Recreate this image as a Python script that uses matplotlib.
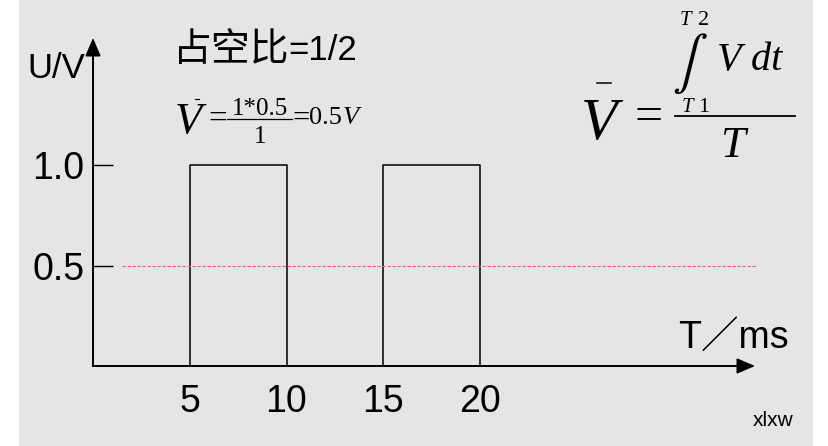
import matplotlib
matplotlib.use("Agg")
import matplotlib.pyplot as plt
from matplotlib.lines import Line2D

plt.rcParams['mathtext.fontset'] = 'stix'
plt.rcParams['font.family'] = ['Liberation Sans', 'Noto Sans CJK SC', 'DejaVu Sans']

# ---- data ----
pulse_starts = [5, 15]
pulse_ends = [10, 20]
pulse_high = 1.0
avg_level = 0.5
x_ticks = [5, 10, 15, 20]
x_tick_labels = ['5', '10', '15', '20']
y_ticks = [0.5, 1.0]
y_tick_labels = ['0.5', '1.0']

W, H = 829, 446
fig = plt.figure(figsize=(W / 100, H / 100), dpi=100)
fig.patch.set_facecolor('white')

def fx(x):
    return x / W

def fy(y):
    return 1 - y / H

# pixel mapping of data axes
x0_px, ppx = 93.0, 19.35
y0_px, ppy = 366.0, 201.0
left_px, right_px = 19, 813

ax = fig.add_axes([fx(left_px), 0, fx(right_px - left_px), 1])
ax.set_facecolor('#e5e5e5')
ax.set_xlim((left_px - x0_px) / ppx, (right_px - x0_px) / ppx)
ax.set_ylim((y0_px - H) / ppy, y0_px / ppy)

x_end = (755 - x0_px) / ppx
y_end = (y0_px - 38) / ppy

for s in ['top', 'right']:
    ax.spines[s].set_visible(False)
ax.spines['left'].set_position(('data', 0))
ax.spines['bottom'].set_position(('data', 0))
ax.spines['left'].set_bounds(0, y_end - 0.05)
ax.spines['bottom'].set_bounds(0, x_end - 0.5)
for s in ['left', 'bottom']:
    ax.spines[s].set_linewidth(1.2)

arrow_kw = dict(arrowstyle='-|>,head_length=0.7,head_width=0.3', color='black',
                lw=1.2, shrinkA=0, shrinkB=0, mutation_scale=16)
ax.annotate('', xy=(x_end, 0), xytext=(0, 0), arrowprops=arrow_kw)
ax.annotate('', xy=(0, y_end), xytext=(0, 0), arrowprops=arrow_kw)

ax.set_xticks(x_ticks)
ax.set_xticklabels(x_tick_labels, fontsize=27)
ax.tick_params(axis='x', length=0, pad=13)
ax.set_yticks(y_ticks)
ax.set_yticklabels(y_tick_labels, fontsize=27)
ax.tick_params(axis='y', direction='in', length=14.4, width=1.0, pad=6)

# pulses
for s, e in zip(pulse_starts, pulse_ends):
    ax.plot([s, s, e, e], [0, pulse_high, pulse_high, 0], color='black', lw=1.1)

# average level dotted line
ax.hlines(avg_level, (122 - x0_px) / ppx, (756 - x0_px) / ppx,
          colors='#e8607a', linestyles=(0, (3, 1.5)), lw=0.8)

# sans texts
fig.text(fx(85), fy(68), 'U/V', fontsize=25, ha='right', va='center')
fig.text(fx(173), fy(61), '占空比', fontsize=28, ha='left', va='baseline',
         family=['Noto Sans CJK SC'])
fig.text(fx(288), fy(60), '=1/2', fontsize=25, ha='left', va='baseline')
fig.text(fx(733), fy(338), 'T／ms', fontsize=27, ha='center', va='center')
fig.text(fx(773), fy(420), 'xlxw', fontsize=15, ha='center', va='center')

SERIF = ['Liberation Serif']

def hbar(x1, x2, y, lw):
    fig.add_artist(Line2D([fx(x1), fx(x2)], [fy(y), fy(y)], color='black', lw=lw))

# small formula  V = (1*0.5)/1 = 0.5V
fig.text(fx(188), fy(133), 'V', fontsize=32, family=SERIF, style='italic',
         ha='center', va='baseline')
hbar(195, 199.5, 99, 0.8)
fig.text(fx(208), fy(128), '=', fontsize=24, family=SERIF, ha='left', va='baseline')
hbar(227, 292, 119, 0.9)
fig.text(fx(260), fy(115), '1*0.5', fontsize=18, family=SERIF, ha='center', va='baseline')
fig.text(fx(260), fy(143), '1', fontsize=18, family=SERIF, ha='center', va='baseline')
fig.text(fx(292), fy(127), '=', fontsize=22, family=SERIF, ha='left', va='baseline')
fig.text(fx(309), fy(124), '0.5', fontsize=19, family=SERIF, ha='left', va='baseline')
fig.text(fx(343), fy(124), 'V', fontsize=19, family=SERIF, style='italic',
         ha='left', va='baseline')

# big formula  V = (int_T1^T2 V dt) / T
fig.text(fx(599), fy(139), 'V', fontsize=43, family=SERIF, style='italic',
         ha='center', va='baseline')
hbar(597, 611, 83, 1.1)
fig.text(fx(649), fy(130), '=', fontsize=36, family=SERIF, ha='center', va='baseline')
hbar(675, 795, 116, 1.3)
fig.text(fx(685), fy(25), 'T', fontsize=15, family=SERIF, style='italic',
         ha='center', va='baseline')
fig.text(fx(704), fy(25), '2', fontsize=16, family=SERIF, ha='center', va='baseline')
fig.text(fx(690), fy(63), r'$\int$', fontsize=38, ha='center', va='center')
fig.text(fx(717), fy(70), 'V dt', fontsize=29, family=SERIF, style='italic',
         ha='left', va='baseline')
fig.text(fx(687), fy(112), 'T', fontsize=15, family=SERIF, style='italic',
         ha='center', va='baseline')
fig.text(fx(704), fy(112), '1', fontsize=16, family=SERIF, ha='center', va='baseline')
fig.text(fx(732), fy(157), 'T', fontsize=32, family=SERIF, style='italic',
         ha='center', va='baseline')

fig.savefig('out.png', dpi=100, facecolor=fig.get_facecolor())
